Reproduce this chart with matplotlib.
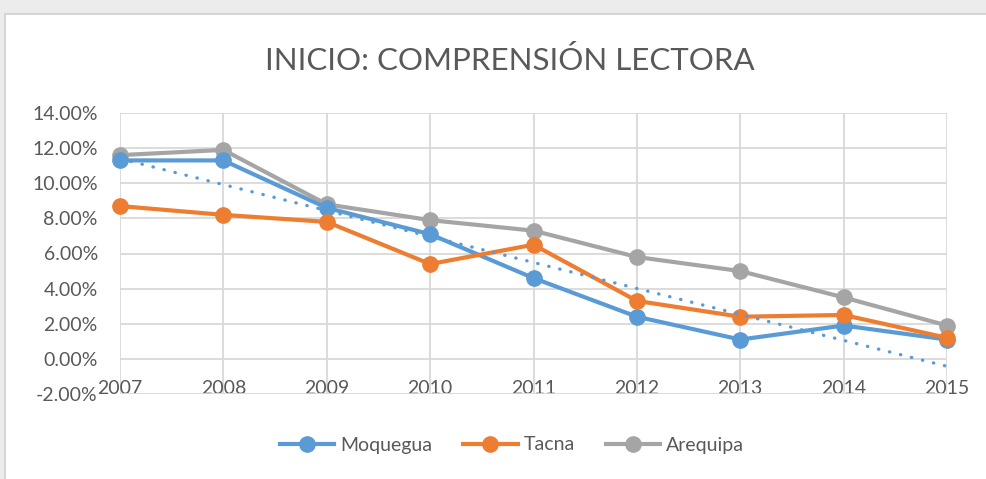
import numpy as np
from matplotlib import pyplot as plt
from matplotlib.patches import Rectangle
from matplotlib.ticker import FuncFormatter

years = [2007, 2008, 2009, 2010, 2011, 2012, 2013, 2014, 2015]
moquegua = [11.3, 11.3, 8.6, 7.1, 4.6, 2.4, 1.1, 1.9, 1.1]
tacna = [8.7, 8.2, 7.8, 5.4, 6.5, 3.3, 2.4, 2.5, 1.2]
arequipa = [11.6, 11.9, 8.8, 7.9, 7.3, 5.8, 5.0, 3.5, 1.9]
series_names = ['Moquegua', 'Tacna', 'Arequipa']
title = 'INICIO: COMPRENSIÓN LECTORA'

plt.rcParams['font.family'] = ['Lato', 'DejaVu Sans']
txt = '#595959'
grid = '#d9d9d9'

fig = plt.figure(figsize=(9.87, 4.79), dpi=100, facecolor='#ececec')
# white chart area with thin border
fig.add_artist(Rectangle((5 / 987, -0.01), 1, 1.01 - 14 / 479, transform=fig.transFigure,
                         facecolor='white', edgecolor='#d0d0d0', lw=1.2, zorder=-10))

ax = fig.add_axes([120 / 987, 1 - 394 / 479, 827 / 987, 281 / 479])
ax.set_facecolor('none')

x = np.arange(len(years))
ax.plot(x, moquegua, color='#5B9BD5', lw=3, marker='o', ms=11, label=series_names[0],
        zorder=3, clip_on=False)
ax.plot(x, tacna, color='#ED7D31', lw=3, marker='o', ms=11, label=series_names[1],
        zorder=4, clip_on=False)
ax.plot(x, arequipa, color='#A5A5A5', lw=3, marker='o', ms=11, label=series_names[2],
        zorder=2, clip_on=False)

# linear trend of Moquegua
z = np.polyfit(x, moquegua, 1)
p = np.poly1d(z)
ax.plot(x, p(x), color='#5B9BD5', lw=2.4, linestyle=(0, (0.1, 3.3)),
        dash_capstyle='round', zorder=5, clip_on=False)

ax.set_xlim(0, len(years) - 1)
ax.set_ylim(-2, 14)
ax.set_yticks(np.arange(-2, 15, 2))
ax.yaxis.set_major_formatter(FuncFormatter(lambda v, _: f'{v:.2f}%'))
ax.set_xticks(x)
ax.set_xticklabels([str(y) for y in years])
ax.grid(True, color=grid, lw=1.3)
ax.set_axisbelow(True)
for s in ax.spines.values():
    s.set_visible(False)
ax.tick_params(axis='y', length=0, pad=16, labelsize=14, labelcolor=txt)
ax.tick_params(axis='x', length=0, pad=-10, labelsize=14, labelcolor=txt)

fig.text(510 / 987, 1 - 60 / 479, title, ha='center', va='center',
         fontsize=22.5, color=txt)

fig.legend(loc='center', bbox_to_anchor=(512 / 987, 1 - 445 / 479), ncol=3,
           frameon=False, fontsize=14, labelcolor=txt, handlelength=2.8,
           columnspacing=1.6, handletextpad=0.3)

fig.savefig('out.png', dpi=100, facecolor=fig.get_facecolor())
